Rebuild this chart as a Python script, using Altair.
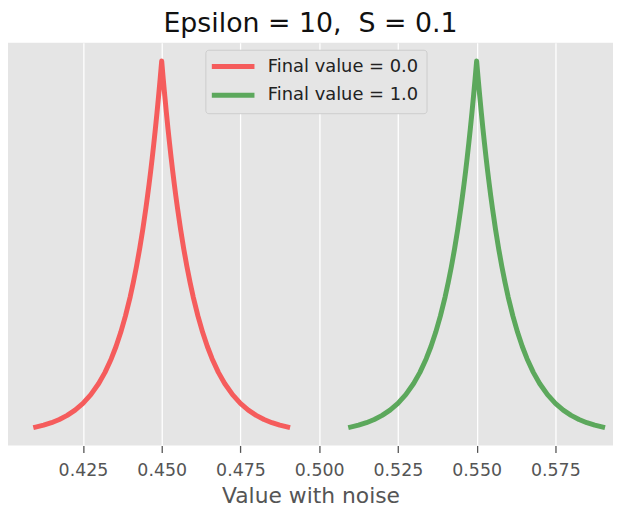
import altair as alt
import pandas as pd

# values
red_x = [0.41, 0.4125, 0.415, 0.4175, 0.42, 0.4225, 0.425, 0.4275, 0.43, 0.432, 0.434,
         0.4355, 0.437, 0.4385, 0.44, 0.441, 0.442, 0.443, 0.444, 0.445, 0.4455, 0.446,
         0.4465, 0.447, 0.4475, 0.448, 0.4485, 0.449, 0.4495, 0.45,
         0.4505, 0.451, 0.4515, 0.452, 0.4525, 0.453, 0.4535, 0.454, 0.4545, 0.455,
         0.456, 0.457, 0.458, 0.459, 0.46, 0.4615, 0.463, 0.4645, 0.466, 0.468, 0.47,
         0.4725, 0.475, 0.4775, 0.48, 0.4825, 0.485, 0.4875, 0.49]
red_y = [0.92, 1.18, 1.51, 1.94, 2.49, 3.20, 4.10, 5.27, 6.77, 8.26, 10.09, 11.73, 13.63,
         15.83, 18.39, 20.33, 22.47, 24.83, 27.44, 30.33, 31.88, 33.52, 35.23, 37.04,
         38.94, 40.94, 43.04, 45.24, 47.56, 50.0,
         47.56, 45.24, 43.04, 40.94, 38.94, 37.04, 35.23, 33.52, 31.88, 30.33, 27.44,
         24.83, 22.47, 20.33, 18.39, 15.83, 13.63, 11.73, 10.09, 8.26, 6.77, 5.27, 4.10,
         3.20, 2.49, 1.94, 1.51, 1.18, 0.92]
green_x = [0.51, 0.5125, 0.515, 0.5175, 0.52, 0.5225, 0.525, 0.5275, 0.53, 0.532, 0.534,
           0.5355, 0.537, 0.5385, 0.54, 0.541, 0.542, 0.543, 0.544, 0.545, 0.5455, 0.546,
           0.5465, 0.547, 0.5475, 0.548, 0.5485, 0.549, 0.5495, 0.55,
           0.5505, 0.551, 0.5515, 0.552, 0.5525, 0.553, 0.5535, 0.554, 0.5545, 0.555,
           0.556, 0.557, 0.558, 0.559, 0.56, 0.5615, 0.563, 0.5645, 0.566, 0.568, 0.57,
           0.5725, 0.575, 0.5775, 0.58, 0.5825, 0.585, 0.5875, 0.59]
green_y = [0.92, 1.18, 1.51, 1.94, 2.49, 3.20, 4.10, 5.27, 6.77, 8.26, 10.09, 11.73, 13.63,
           15.83, 18.39, 20.33, 22.47, 24.83, 27.44, 30.33, 31.88, 33.52, 35.23, 37.04,
           38.94, 40.94, 43.04, 45.24, 47.56, 50.0,
           47.56, 45.24, 43.04, 40.94, 38.94, 37.04, 35.23, 33.52, 31.88, 30.33, 27.44,
           24.83, 22.47, 20.33, 18.39, 15.83, 13.63, 11.73, 10.09, 8.26, 6.77, 5.27, 4.10,
           3.20, 2.49, 1.94, 1.51, 1.18, 0.92]
series_names = ["Final value = 0.0", "Final value = 1.0"]
series_colors = ["#F55C5C", "#5CA85C"]
x_ticks = [0.425, 0.45, 0.475, 0.5, 0.525, 0.55, 0.575]

df = pd.concat([
    pd.DataFrame({"x": red_x, "y": red_y, "s": series_names[0], "o": range(len(red_x))}),
    pd.DataFrame({"x": green_x, "y": green_y, "s": series_names[1], "o": range(len(green_x))}),
])

font = "DejaVu Sans"

chart = alt.Chart(df).mark_line(strokeWidth=5, strokeCap="square", strokeJoin="round").encode(
    x=alt.X("x:Q",
            scale=alt.Scale(domain=[0.4012, 0.5933], nice=False, zero=False),
            axis=alt.Axis(values=x_ticks, format=".3f", title="Value with noise",
                          grid=True, gridColor="white", gridWidth=1.3,
                          domain=False, tickColor="#555555", tickSize=7, tickWidth=1.3,
                          labelColor="#555555", labelFontSize=17.5, labelFont=font,
                          labelPadding=9, titleColor="#555555", titleFontSize=22,
                          titleFont=font, titleFontWeight="normal", titlePadding=7)),
    y=alt.Y("y:Q", scale=alt.Scale(domain=[-1.54, 52.45], nice=False, zero=False),
            axis=None),
    color=alt.Color("s:N", scale=alt.Scale(domain=series_names, range=series_colors),
                    legend=alt.Legend(title=None, orient="none", legendX=199, legendY=7,
                                      symbolType="M-4.3,0L4.3,0", symbolSize=100,
                                      symbolStrokeWidth=5, symbolOffset=11,
                                      labelFontSize=18,
                                      labelFont=font, labelColor="#222222",
                                      rowPadding=9, padding=8,
                                      fillColor="#E5E5E5", strokeColor="#CCCCCC",
                                      cornerRadius=3, labelOffset=26)),
    order="o:Q",
).properties(
    width=610, height=406,
    title=alt.Title("Epsilon = 10,\u00a0 S = 0.1", fontSize=27, font=font,
                    fontWeight="normal", color="#111111", offset=5),
    padding={"left": 0, "top": 0, "right": 0, "bottom": 0},
).configure_view(fill="#E5E5E5", stroke=None)

chart.save("out.html", embed_options={"renderer": "svg", "actions": False})
